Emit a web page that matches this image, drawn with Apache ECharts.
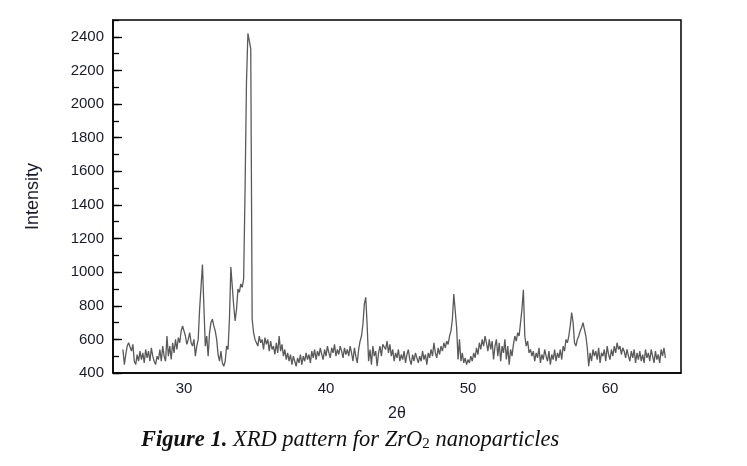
<!DOCTYPE html>
<html>
<head>
<meta charset="utf-8">
<script src="https://cdn.jsdelivr.net/npm/echarts@6/dist/echarts.min.js"></script>
<style>
html,body{margin:0;padding:0;background:#fff;}
#chart{width:747px;height:466px;}
</style>
</head>
<body>
<div id="chart"></div>
<script>
// Scan: 2θ from 25.7° in 0.1° steps
const scanStart = 25.7;
const scanStep = 0.1;
const intensity = [
  540,450,510,560,580,590,530,570,470,450,   // 25.7-26.6
  510,470,530,480,520,460,540,490,530,470,   // 26.7-27.6
  550,500,470,450,500,480,540,470,560,500,   // 27.7-28.6
  470,620,500,560,480,580,520,600,540,610,   // 28.7-29.6
  580,650,680,690,620,570,600,640,580,560,   // 29.7-30.6
  600,500,560,600,780,790,1045,800,560,620,  // 30.7-31.6
  500,640,700,720,680,650,600,510,470,530,   // 31.7-32.6
  460,440,470,560,540,720,1030,1020,800,710, // 32.7-33.6
  780,900,880,930,910,960,1490,2130,2420,2410, // 33.7-34.6
  2330,720,640,600,590,560,620,580,600,540,  // 34.7-35.6
  610,570,600,530,590,540,560,510,580,520,   // 35.7-36.6
  620,530,570,500,540,480,520,470,510,450,   // 36.7-37.6
  500,470,440,490,460,510,450,500,470,520,   // 37.7-38.6
  480,510,460,530,490,540,480,530,500,550,   // 38.7-39.6
  510,480,540,500,560,520,490,550,520,570,   // 39.7-40.6
  500,540,510,560,530,490,550,510,540,500,   // 40.7-41.6
  560,520,470,550,500,460,540,590,620,690,   // 41.7-42.6
  810,850,680,470,540,450,560,500,530,440,   // 42.7-43.6
  520,560,500,570,580,540,590,520,570,500,   // 43.7-44.6
  540,470,520,490,540,470,510,480,530,460,   // 44.7-45.6
  510,540,480,450,510,470,520,490,460,500,   // 45.7-46.6
  470,530,480,510,450,520,490,540,500,580,   // 46.7-47.6
  520,490,550,510,560,530,580,550,590,570,   // 47.7-48.6
  620,650,720,870,880,670,480,600,470,520,   // 48.7-49.6
  460,490,450,480,460,500,470,520,490,550,   // 49.7-50.6
  510,580,540,600,560,620,580,530,600,540,   // 50.7-51.6
  590,480,560,600,500,580,470,560,520,600,   // 51.7-52.6
  480,560,450,540,500,570,620,590,640,620,   // 52.7-53.6
  700,780,895,620,560,590,520,540,500,530,   // 53.7-54.6
  470,520,490,550,460,510,480,540,500,470,   // 54.7-55.6
  530,450,510,480,540,470,520,490,540,480,   // 55.7-56.6
  560,530,600,580,620,680,760,700,580,560,   // 56.7-57.6
  600,620,650,670,700,690,620,550,440,520,   // 57.7-58.6
  470,540,500,530,480,550,460,520,500,540,   // 58.7-59.6
  470,560,510,480,540,500,560,520,580,540,   // 59.7-60.6
  560,510,550,530,490,540,500,470,530,490,   // 60.7-61.6
  540,460,520,480,530,470,510,460,540,490,   // 61.7-62.6
  520,470,540,500,460,530,480,510,460,540,   // 62.7-63.6
  500,550,490                                // 63.7-63.9
];
const xTickLabels = [30, 40, 50, 60];
const yTickLabels = [400, 600, 800, 1000, 1200, 1400, 1600, 1800, 2000, 2200, 2400];

const points = intensity.map((v, i) => [+(scanStart + i * scanStep).toFixed(2), v]);

const labelFont = 'Liberation Sans, Arial, sans-serif';
const serif = 'Liberation Serif, serif';
const chart = echarts.init(document.getElementById('chart'), null, {renderer: 'canvas'});
chart.setOption({
  animation: false,
  backgroundColor: '#fff',
  title: {
    left: 141, top: 429, padding: 0,
    text: '{b|Figure 1.}{i| XRD pattern for ZrO}{s|2}{i| nanoparticles}',
    textStyle: {
      fontWeight: 'normal',
      rich: {
        b: {fontFamily: serif, fontWeight: 'bold', fontStyle: 'italic', fontSize: 22.5, color: '#111'},
        i: {fontFamily: serif, fontWeight: 'normal', fontStyle: 'italic', fontSize: 22.5, color: '#111'},
        s: {fontFamily: serif, fontWeight: 'normal', fontStyle: 'normal', fontSize: 15, color: '#111', verticalAlign: 'bottom', lineHeight: 20}
      }
    }
  },
  grid: {
    left: 113, top: 20, right: 66, bottom: 93,
    show: true, borderColor: '#000', borderWidth: 1.5, backgroundColor: 'transparent'
  },
  xAxis: {
    type: 'value', min: 25, max: 65, interval: 5,
    name: '2θ', nameLocation: 'middle', nameGap: 33,
    nameTextStyle: {fontFamily: labelFont, fontSize: 16, color: '#1a1a2e'},
    axisLine: {show: true, lineStyle: {color: '#000', width: 1.5}},
    axisTick: {show: false},
    splitLine: {show: false},
    axisLabel: {
      margin: 8, fontFamily: labelFont, fontSize: 15, color: '#1a1a2e',
      formatter: v => xTickLabels.includes(v) ? String(v) : ''
    }
  },
  yAxis: [
    {
      type: 'value', min: 400, max: 2500, interval: 200,
      name: 'Intensity', nameLocation: 'middle', nameRotate: 90, nameGap: 71,
      nameTextStyle: {fontFamily: labelFont, fontSize: 18, color: '#1a1a2e'},
      axisLine: {show: true, lineStyle: {color: '#000', width: 1.5}},
      axisTick: {show: true, inside: true, length: 9, lineStyle: {color: '#000', width: 1.3}},
      splitLine: {show: false},
      axisLabel: {
        margin: 9, fontFamily: labelFont, fontSize: 15, color: '#1a1a2e',
        showMaxLabel: false,
        formatter: v => yTickLabels.includes(v) ? String(v) : ''
      }
    },
    {
      type: 'value', min: 400, max: 2500, interval: 100, position: 'left',
      axisLine: {show: false},
      axisTick: {show: true, inside: true, length: 6, lineStyle: {color: '#000', width: 1.3}},
      axisLabel: {show: false},
      splitLine: {show: false}
    }
  ],
  series: [{
    type: 'line',
    data: points,
    yAxisIndex: 0,
    showSymbol: false,
    symbol: 'none',
    lineStyle: {color: '#5a5a5a', width: 1.3},
    silent: true
  }]
});
</script>
</body>
</html>
